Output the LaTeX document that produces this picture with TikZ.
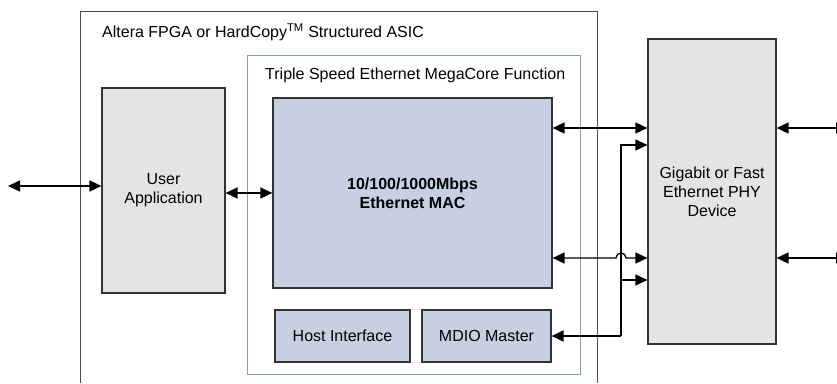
\documentclass[tikz,border=0pt]{standalone}
\usepackage{xcolor}
\usepackage{tikz}
\usepackage{fontspec}
\setmainfont{Liberation Sans}
\usetikzlibrary{arrows.meta, positioning, calc}

\definecolor{boxgray}{HTML}{E4E4E4}
\definecolor{macblue}{HTML}{C6D0E2}
\definecolor{tseline}{HTML}{7D9FC8}

\begin{document}
\begin{tikzpicture}[x=1pt, y=-1pt, font=\fontsize{16}{19}\selectfont]
    % Styles
    \tikzstyle{block} = [rectangle, draw=black!80, line width=1.2pt, inner sep=0pt, text centered, align=center]
    \tikzstyle{arrow} = [line width=1.6pt, >={Triangle[length=12pt, width=11pt]}]

    \useasboundingbox (0,0) rectangle (837,383);
    \clip (0,0) rectangle (837,383);

    % FPGA frame (open at the bottom)
    \draw[black!70, line width=0.8pt] (80,383) |- (597,11) -- (597,383);
    \node[anchor=west, inner sep=0pt] (fpga) at (102,32) {Altera FPGA or HardCopy\textsuperscript{TM} Structured ASIC};

    % MegaCore function
    \node[draw=tseline, line width=1pt, minimum width=333pt, minimum height=319pt] (tse) at (413.5,214.5) {};
    \node[anchor=west, inner sep=0pt] (tselabel) at (265,75) {Triple Speed Ethernet MegaCore Function};

    % Blocks
    \node[block, fill=boxgray, minimum width=123pt, minimum height=205pt] (user) at (163.5,190.5) {User\\Application};
    \node[block, fill=macblue, minimum width=279pt, minimum height=190pt, font=\fontsize{16}{19}\selectfont\bfseries] (mac) at (412.5,193) {10/100/1000Mbps\\Ethernet MAC};
    \node[block, fill=macblue, minimum width=135pt, minimum height=52pt] (host) at (342.5,336) {Host Interface};
    \node[block, fill=macblue, minimum width=129pt, minimum height=52pt] (mdio) at (486.5,336) {MDIO Master};
    \node[block, fill=boxgray, minimum width=128pt, minimum height=305pt] (phy) at (712,191.5) {Gigabit or Fast\\Ethernet PHY\\Device};

    % Free ends
    \coordinate (lft) at (8,186);
    \coordinate (bus1) at (848,128);
    \coordinate (bus2) at (848,258);
    \coordinate (tap) at (621,145);
    \coordinate (tapb) at (621,280);

    % Arrows
    \draw[arrow, <->] (lft) -- (user.west |- lft);
    \draw[arrow, <->] (user.east |- mac) -- (mac.west);
    \draw[arrow, <->] (mac.east |- bus1) -- (phy.west |- bus1);
    \draw[arrow, <->, line width=1.3pt] (mac.east |- bus2) -- ($(tap |- bus2)+(-5,0)$) arc[start angle=180, end angle=0, radius=5pt] -- (phy.west |- bus2);
    \draw[arrow, <-] (mdio.east) -- (mdio.east -| tap);
    \draw[arrow, ->, line width=1.2pt] (mdio.east -| tap) -- (tap) -- (phy.west |- tap);
    \draw[arrow, ->, line width=1.2pt] (tapb) -- (phy.west |- tapb);
    \draw[arrow, <->] (phy.east |- bus1) -- (bus1);
    \draw[arrow, <->] (phy.east |- bus2) -- (bus2);
\end{tikzpicture}
\end{document}
